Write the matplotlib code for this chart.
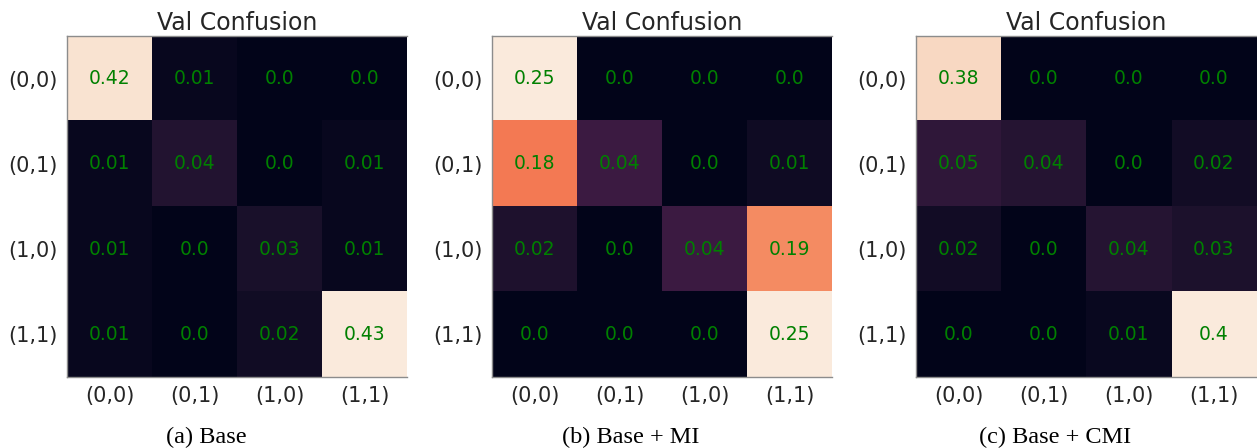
import numpy as np
import matplotlib
matplotlib.use("Agg")
import matplotlib.pyplot as plt
import seaborn as sns

plt.rcParams["font.family"] = ["DejaVu Sans"]

labels = ["(0,0)", "(0,1)", "(1,0)", "(1,1)"]

base = [[0.42, 0.01, 0.00, 0.00],
        [0.01, 0.04, 0.00, 0.01],
        [0.01, 0.00, 0.03, 0.01],
        [0.01, 0.00, 0.02, 0.43]]

base_mi = [[0.25, 0.00, 0.00, 0.00],
           [0.18, 0.04, 0.00, 0.01],
           [0.02, 0.00, 0.04, 0.19],
           [0.00, 0.00, 0.00, 0.25]]

base_cmi = [[0.38, 0.00, 0.00, 0.00],
            [0.05, 0.04, 0.00, 0.02],
            [0.02, 0.00, 0.04, 0.03],
            [0.00, 0.00, 0.01, 0.40]]

captions = ["(a) Base", "(b) Base + MI", "(c) Base + CMI"]
matrices = [base, base_mi, base_cmi]

cmap = sns.color_palette("rocket", as_cmap=True)
W, H = 1257, 448
fig = plt.figure(figsize=(W / 100, H / 100), dpi=100)

ax_left = [67, 492, 916]
cap_x = [206, 631, 1055]
text_col = "#262626"

for i, (mat, cap) in enumerate(zip(matrices, captions)):
    data = np.array(mat)
    ax = fig.add_axes([ax_left[i] / W, 71 / H, 340 / W, 341 / H])
    ax.imshow(data, cmap=cmap, vmin=data.min(), vmax=data.max(), aspect="auto")
    for r in range(data.shape[0]):
        for c in range(data.shape[1]):
            ax.text(c, r, str(round(data[r, c], 2)), ha="center", va="center",
                    color="green", fontsize=13.5)
    ax.set_xticks(range(len(labels)))
    ax.set_yticks(range(len(labels)))
    ax.set_xticklabels(labels, fontsize=15, color=text_col)
    ax.set_yticklabels(labels, fontsize=15, color=text_col)
    ax.tick_params(length=0, pad=6.5)
    ax.set_title("Val Confusion", fontsize=17, color=text_col, pad=4)
    for side in ["left", "top", "bottom"]:
        ax.spines[side].set_color("#8c8c8c")
        ax.spines[side].set_linewidth(1)
    ax.spines["right"].set_visible(False)
    fig.text(cap_x[i] / W, 1 - 437 / H, cap, ha="center", va="center",
             fontsize=17.5, family="Liberation Serif", color="black")

fig.savefig("out.png", dpi=100)
